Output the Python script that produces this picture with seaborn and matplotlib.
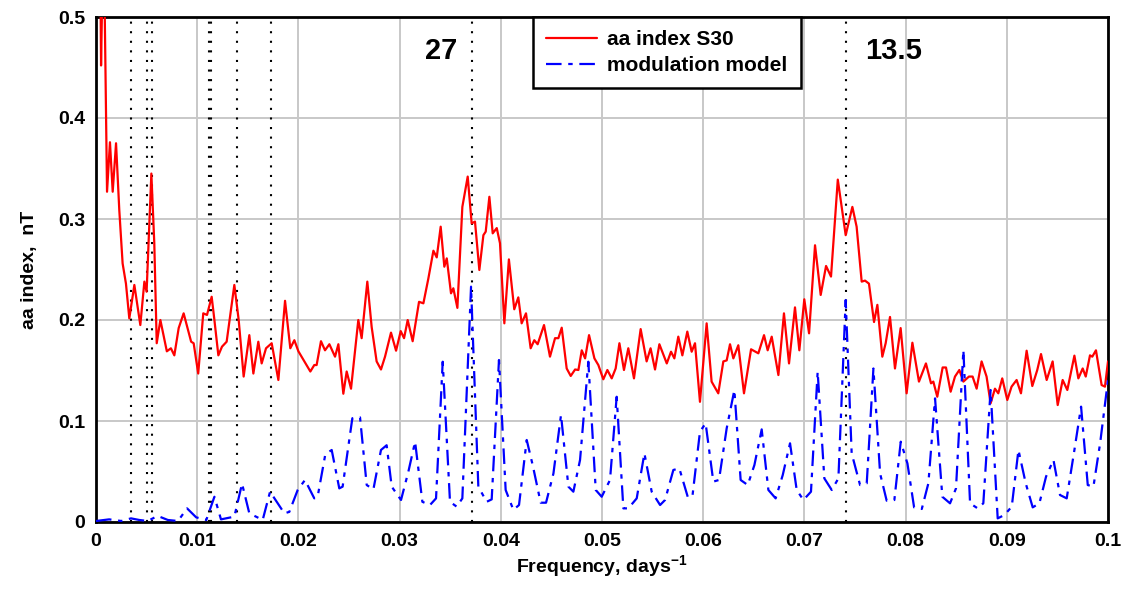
import numpy as np
import matplotlib
matplotlib.use("Agg")
import matplotlib.pyplot as plt
import seaborn as sns

# ---------------- data ----------------
red_f = [0.0004, 0.0005, 0.00074, 0.00109, 0.00138, 0.00165, 0.00198, 0.0023, 0.00263, 0.00296,
         0.00329, 0.00379, 0.00438, 0.00478, 0.0050, 0.00547, 0.00576, 0.0060, 0.00636, 0.0070,
         0.0074, 0.00774, 0.00817, 0.00866, 0.0094, 0.00965, 0.0101, 0.0106, 0.01097, 0.01143,
         0.0117, 0.01209, 0.01245, 0.01291, 0.01367, 0.0141, 0.01459, 0.01515, 0.01555, 0.01604,
         0.01637, 0.0168, 0.01736, 0.01802, 0.01868, 0.0192, 0.0196, 0.0200, 0.02059, 0.02118,
         0.02157, 0.0218, 0.02223, 0.02263, 0.02306, 0.02362, 0.02395, 0.02444, 0.02477, 0.0252,
         0.02592, 0.02625, 0.02681, 0.02724, 0.02773, 0.02816, 0.02856, 0.02915, 0.02965, 0.03011,
         0.03044, 0.0308, 0.03129, 0.03192, 0.03235, 0.03284, 0.03334, 0.03367, 0.03406, 0.03442,
         0.03466, 0.03508, 0.03531, 0.03571, 0.0362, 0.03673, 0.03712, 0.03745, 0.03788, 0.03828,
         0.03851, 0.03887, 0.0392, 0.0396, 0.03992, 0.04035, 0.0408, 0.04133, 0.04173, 0.04206,
         0.04249, 0.04295, 0.04331, 0.04364, 0.04427, 0.04486, 0.04536, 0.04569, 0.04602, 0.04651,
         0.04691, 0.04734, 0.04767, 0.0480, 0.04833, 0.04872, 0.04925, 0.04964, 0.05013, 0.05053,
         0.05096, 0.05135, 0.05172, 0.05217, 0.0526, 0.05316, 0.05382, 0.05441, 0.0548, 0.05524,
         0.05567, 0.0564, 0.05682, 0.05715, 0.05754, 0.05794, 0.05843, 0.05886, 0.05919, 0.05968,
         0.06034, 0.06083, 0.06149, 0.06199, 0.06232, 0.06265, 0.06298, 0.06347, 0.06403, 0.06473,
         0.06545, 0.06601, 0.06637, 0.06677, 0.06743, 0.06798, 0.06848, 0.06907, 0.0695, 0.06999,
         0.07046, 0.07105, 0.07161, 0.07214, 0.07263, 0.0733, 0.07408, 0.07474, 0.07516, 0.07566,
         0.07599, 0.07638, 0.07688, 0.07721, 0.0777, 0.07803, 0.07846, 0.07895, 0.07951, 0.0801,
         0.08067, 0.08132, 0.08201, 0.08251, 0.08274, 0.08313, 0.08366, 0.08399, 0.08445, 0.08488,
         0.08531, 0.08571, 0.08626, 0.08662, 0.08702, 0.08751, 0.0880, 0.0884, 0.08883, 0.08916,
         0.08955, 0.09005, 0.09047, 0.09097, 0.0914, 0.09196, 0.09252, 0.09301, 0.09338, 0.09394,
         0.09453, 0.09503, 0.09552, 0.09598, 0.09668, 0.09707, 0.0975, 0.0978, 0.09822, 0.09845,
         0.09881, 0.09937, 0.0997, 0.1000]
red_v = [0.58, 0.452, 0.60, 0.327, 0.376, 0.327, 0.375, 0.309, 0.256, 0.236,
         0.2016, 0.2347, 0.195, 0.238, 0.228, 0.345, 0.276, 0.177, 0.200, 0.169,
         0.172, 0.165, 0.192, 0.2066, 0.1785, 0.177, 0.147, 0.2066, 0.205, 0.223,
         0.200, 0.165, 0.1736, 0.1785, 0.2347, 0.200, 0.144, 0.185, 0.147, 0.1785,
         0.157, 0.172, 0.177, 0.1406, 0.219, 0.172, 0.180, 0.169, 0.159, 0.149,
         0.1554, 0.1554, 0.179, 0.170, 0.176, 0.1637, 0.176, 0.127, 0.149, 0.132,
         0.200, 0.182, 0.238, 0.193, 0.159, 0.151, 0.1637, 0.1875, 0.1696, 0.189,
         0.182, 0.200, 0.179, 0.218, 0.2165, 0.241, 0.2686, 0.262, 0.2924, 0.2528,
         0.261, 0.2264, 0.2314, 0.212, 0.312, 0.342, 0.2957, 0.2974, 0.2495, 0.284,
         0.2875, 0.322, 0.2858, 0.291, 0.276, 0.1967, 0.260, 0.2106, 0.2224, 0.1967,
         0.2066, 0.172, 0.180, 0.176, 0.195, 0.1637, 0.182, 0.182, 0.1924, 0.152,
         0.1446, 0.151, 0.1505, 0.170, 0.162, 0.185, 0.162, 0.1554, 0.1413, 0.1505,
         0.1422, 0.152, 0.177, 0.1505, 0.172, 0.1422, 0.191, 0.159, 0.172, 0.151,
         0.176, 0.157, 0.1686, 0.162, 0.1835, 0.165, 0.1885, 0.1686, 0.177, 0.119,
         0.1967, 0.139, 0.1274, 0.159, 0.160, 0.176, 0.162, 0.175, 0.1274, 0.171,
         0.167, 0.185, 0.170, 0.1835, 0.1455, 0.2066, 0.157, 0.2125, 0.170, 0.2205,
         0.1868, 0.274, 0.2248, 0.2535, 0.243, 0.339, 0.284, 0.312, 0.2924, 0.238,
         0.239, 0.236, 0.198, 0.215, 0.1637, 0.177, 0.203, 0.152, 0.192, 0.1274,
         0.1775, 0.139, 0.157, 0.1373, 0.139, 0.124, 0.153, 0.153, 0.129, 0.144,
         0.1505, 0.139, 0.144, 0.144, 0.132, 0.159, 0.144, 0.1175, 0.132, 0.1274,
         0.1422, 0.1208, 0.134, 0.1406, 0.1274, 0.1696, 0.1346, 0.1505, 0.1663, 0.1406,
         0.159, 0.1158, 0.1406, 0.1307, 0.1647, 0.1422, 0.152, 0.144, 0.165, 0.1637,
         0.170, 0.1356, 0.134, 0.159]

blue_f = [0.0000, 0.0013, 0.0025, 0.00346, 0.00428, 0.0051, 0.0061, 0.0071, 0.0081, 0.0090,
          0.0099, 0.0109, 0.0117, 0.01235, 0.01367, 0.01443, 0.01515, 0.01647, 0.0172, 0.01861,
          0.0191, 0.01993, 0.02065, 0.02157, 0.0219, 0.02266, 0.02329, 0.02404, 0.02437, 0.02533,
          0.02609, 0.02675, 0.02741, 0.02816, 0.02872, 0.02922, 0.03014, 0.03087, 0.03153, 0.03225,
          0.0330, 0.0336, 0.03426, 0.03498, 0.03564, 0.0362, 0.03706, 0.03778, 0.0386, 0.0391,
          0.03982, 0.04048, 0.04124, 0.0418, 0.04256, 0.04315, 0.04394, 0.04447, 0.0452, 0.04595,
          0.04668, 0.04717, 0.04783, 0.04865, 0.04938, 0.04997, 0.05079, 0.05145, 0.05211, 0.0526,
          0.05343, 0.05419, 0.05491, 0.05574, 0.05623, 0.05705, 0.05764, 0.05847, 0.05893, 0.05968,
          0.06024, 0.0610, 0.06156, 0.06232, 0.06308, 0.0637, 0.0644, 0.06506, 0.06578, 0.06644,
          0.06716, 0.06786, 0.06858, 0.06924, 0.0699, 0.07065, 0.07131, 0.07197, 0.0727, 0.07336,
          0.07408, 0.07467, 0.0755, 0.07616, 0.07682, 0.07748, 0.07813, 0.07889, 0.07952, 0.08018,
          0.08084, 0.0816, 0.08225, 0.08291, 0.08363, 0.08439, 0.08498, 0.08571, 0.08637, 0.08712,
          0.08768, 0.0884, 0.0891, 0.08976, 0.09049, 0.09115, 0.09187, 0.09256, 0.09322, 0.09388,
          0.09461, 0.09526, 0.09592, 0.09668, 0.09734, 0.0980, 0.09856, 0.09922, 0.1000]
blue_v = [0.001, 0.0026, 0.001, 0.0036, 0.002, 0.001, 0.006, 0.002, 0.001, 0.0135,
          0.0046, 0.002, 0.025, 0.0026, 0.0053, 0.038, 0.0086, 0.002, 0.030, 0.0086,
          0.010, 0.0317, 0.0416, 0.0234, 0.025, 0.067, 0.0713, 0.0333, 0.035, 0.1027,
          0.1036, 0.0366, 0.0323, 0.0713, 0.076, 0.035, 0.0218, 0.050, 0.0795, 0.020,
          0.0168, 0.0234, 0.1587, 0.020, 0.0152, 0.0234, 0.233, 0.035, 0.020, 0.0224,
          0.1604, 0.0317, 0.012, 0.0168, 0.0812, 0.0564, 0.0191, 0.0191, 0.048, 0.106,
          0.035, 0.030, 0.0614, 0.1587, 0.0317, 0.025, 0.0416, 0.124, 0.0135, 0.0135,
          0.0234, 0.068, 0.030, 0.0168, 0.0218, 0.0515, 0.0531, 0.025, 0.025, 0.0894,
          0.0977, 0.040, 0.0416, 0.0927, 0.1307, 0.0416, 0.0366, 0.0564, 0.0917, 0.0317,
          0.0234, 0.0465, 0.0779, 0.0317, 0.0218, 0.030, 0.1488, 0.0432, 0.0317, 0.0432,
          0.2198, 0.068, 0.0366, 0.0383, 0.152, 0.048, 0.0211, 0.0218, 0.0795, 0.058,
          0.0145, 0.0129, 0.0383, 0.1224, 0.025, 0.0185, 0.0333, 0.1703, 0.0185, 0.0135,
          0.0185, 0.1307, 0.0036, 0.0069, 0.0152, 0.0713, 0.0383, 0.0145, 0.0185, 0.045,
          0.0614, 0.0267, 0.0234, 0.0713, 0.1142, 0.0366, 0.035, 0.0779, 0.1406]

vlines_f = [0.00349, 0.00501, 0.0055, 0.0112, 0.01136, 0.0139, 0.01729, 0.03712, 0.07414]
period_labels = ["27", "13.5"]
period_label_f = [0.0325, 0.0760]
x_ticks = [0, 0.01, 0.02, 0.03, 0.04, 0.05, 0.06, 0.07, 0.08, 0.09, 0.1]
x_ticklabels = ["0", "0.01", "0.02", "0.03", "0.04", "0.05", "0.06", "0.07", "0.08", "0.09", "0.1"]
y_ticks = [0, 0.1, 0.2, 0.3, 0.4, 0.5]
y_ticklabels = ["0", "0.1", "0.2", "0.3", "0.4", "0.5"]
series_names = ["aa index S30", "modulation model"]

# ---------------- style ----------------
sns.set_style("white")
plt.rcParams["font.family"] = ["Liberation Sans", "DejaVu Sans"]
plt.rcParams["font.weight"] = "bold"
plt.rcParams["text.color"] = "black"
plt.rcParams["axes.labelcolor"] = "black"
plt.rcParams["xtick.color"] = "black"
plt.rcParams["ytick.color"] = "black"
plt.rcParams["mathtext.fontset"] = "custom"
plt.rcParams["mathtext.bf"] = "Liberation Sans:bold"
plt.rcParams["mathtext.rm"] = "Liberation Sans:bold"
plt.rcParams["mathtext.default"] = "bf"

fig = plt.figure(figsize=(11.27, 5.90), dpi=100)
ax = fig.add_axes([96 / 1127, 1 - 522 / 590, (1108 - 96) / 1127, (522 - 17) / 590])

ax.grid(True, color="#c8c8c8", linewidth=1.4, zorder=0)
ax.set_axisbelow(True)

for f in vlines_f:
    ax.axvline(f, color="black", linestyle=(0, (1, 3.6)), linewidth=1.5, zorder=2)

sns.lineplot(x=red_f, y=red_v, ax=ax, color="red", linewidth=1.6,
             label=series_names[0], zorder=3, estimator=None, sort=False)
sns.lineplot(x=blue_f, y=blue_v, ax=ax, color="blue", linewidth=1.6,
             linestyle=(0, (7, 3, 2, 3)), label=series_names[1], zorder=3,
             estimator=None, sort=False)

ax.set_xlim(0, 0.1)
ax.set_ylim(0, 0.5)
ax.set_xticks(x_ticks)
ax.set_xticklabels(x_ticklabels, fontsize=14, fontweight="bold", color="black")
ax.set_yticks(y_ticks)
ax.set_yticklabels(y_ticklabels, fontsize=14, fontweight="bold", color="black")
ax.tick_params(axis="both", length=0, pad=8)

for sp in ax.spines.values():
    sp.set_color("black")
    sp.set_linewidth(2)

ax.set_xlabel(r"Frequency, days$^{-1}$", fontsize=14, fontweight="bold", labelpad=2, color="black")
ax.set_ylabel("aa index,  nT", fontsize=14, fontweight="bold", labelpad=14, color="black")

for lab, f in zip(period_labels, period_label_f):
    ax.text(f, 0.466, lab, fontsize=21, fontweight="bold", ha="left", va="center",
            color="black", zorder=4)

leg = ax.legend(loc="upper left", bbox_to_anchor=(0.4318, 1.0), frameon=True,
                fancybox=False, shadow=False, fontsize=15, handlelength=2.45,
                borderpad=0.62, labelspacing=0.33, handletextpad=0.5, borderaxespad=0)
leg.get_frame().set_edgecolor("black")
leg.get_frame().set_linewidth(1.8)
leg.get_frame().set_facecolor("white")
leg.get_frame().set_alpha(1.0)
for t in leg.get_texts():
    t.set_fontweight("bold")
    t.set_color("black")

fig.savefig("out.png", dpi=100)
